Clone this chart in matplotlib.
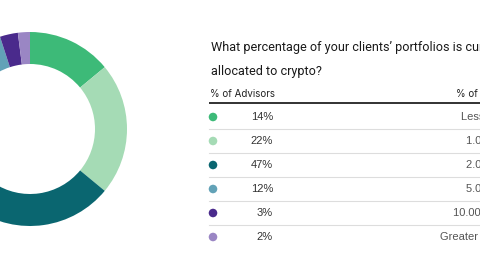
import matplotlib.pyplot as plt

# data
shares = [14, 22, 47, 12, 3, 2]
share_labels = ['14%', '22%', '47%', '12%', '3%', '2%']
ranges = ['Less than 1.00%', '1.00% to 1.99%', '2.00% to 4.99%', '5.00% to 9.99%',
          '10.00% to 19.99%', 'Greater than 20.00%']
colors = ['#3dba78', '#a5dbb5', '#0a6670', '#62a2b7', '#4a2a8c', '#9a86c4']

W, H = 480, 260
fig = plt.figure(figsize=(4.8, 2.6), dpi=100)

def fx(px):
    return px / W

def fy(py):
    return 1 - py / H

# donut, centre ~ (30,129) px, radius 97 px
cx, cy, r = 30, 129, 97
ax = fig.add_axes([fx(cx - r), fy(cy + r), 2 * r / W, 2 * r / H])
ax.pie(shares, colors=colors, startangle=90, counterclock=False, radius=1,
       wedgeprops=dict(width=32 / 97, edgecolor='none'))
ax.set_xlim(-1, 1)
ax.set_ylim(-1, 1)
ax.set_aspect('auto')
ax.axis('off')

# title
title_font = dict(fontsize=9.1, family='Roboto', color='#1a1a1a', va='center', ha='left')
fig.text(fx(211), fy(48), "What percentage of your clients\u2019 portfolios is currently", **title_font)
fig.text(fx(211), fy(72), "allocated to crypto?", **title_font)

# table
tab = fig.add_axes([0, 0, 1, 1])
tab.set_xlim(0, W)
tab.set_ylim(H, 0)
tab.axis('off')

hdr_font = dict(fontsize=7, family='Inter', color='#222222', va='center')
tab.text(210, 94, '% of Advisors', ha='left', **hdr_font)
tab.text(556, 94, '% of Clients\u2019 Portfolio', ha='right', **hdr_font)
tab.plot([209, 480], [103, 103], color='#222222', lw=1.3, solid_capstyle='butt')

row_y = [117, 141, 165, 189, 213, 237]
tab.scatter([213] * len(row_y), row_y, s=38, c=colors, edgecolors='none')
for i, y in enumerate(row_y):
    tab.text(273, y, share_labels[i], ha='right', va='center', fontsize=8,
             family='Liberation Sans', color='#333333')
    tab.text(544, y, ranges[i], ha='right', va='center', fontsize=8,
             family='Liberation Sans', color='#555555')
    if i < len(row_y) - 1:
        tab.plot([209, 480], [y + 12, y + 12], color='#dddddd', lw=0.8)

fig.savefig('out.png', dpi=100)
